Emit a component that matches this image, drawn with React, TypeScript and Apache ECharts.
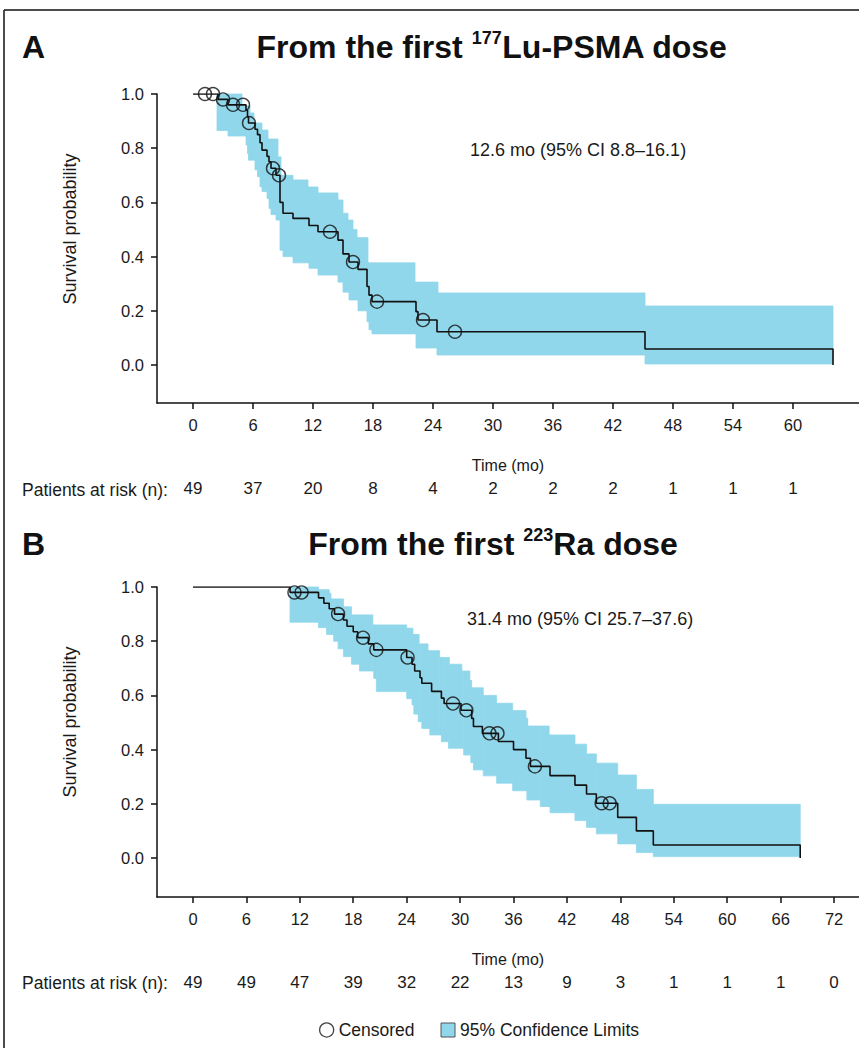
import React, { useEffect, useRef } from 'react';
import * as echarts from 'echarts';

const FONT = '"Liberation Sans", Arial, Helvetica, sans-serif';
const CI_COLOR = '#91d7eb';
const INK = '#111111';

// ---- tick labels / at-risk rows ----
const timeTicksA = [0, 6, 12, 18, 24, 30, 36, 42, 48, 54, 60];
const riskA = [49, 37, 20, 8, 4, 2, 2, 2, 1, 1, 1];
const timeTicksB = [0, 6, 12, 18, 24, 30, 36, 42, 48, 54, 60, 66, 72];
const riskB = [49, 49, 47, 39, 32, 22, 13, 9, 3, 1, 1, 1, 0];
const yTicks = [0, 0.2, 0.4, 0.6, 0.8, 1.0];

// ---- Panel A: KM curve (time, survival after step) ----
const curveA: [number, number][] = [
  [0, 1.0], [2.5, 0.98], [3.5, 0.96], [5.3, 0.94], [5.45, 0.915], [5.55, 0.893],
  [6.2, 0.87], [6.45, 0.85], [6.7, 0.82], [6.9, 0.793], [7.4, 0.77], [7.6, 0.75],
  [7.8, 0.726], [8.3, 0.70], [8.7, 0.60], [9.0, 0.56], [10.0, 0.541], [11.6, 0.515],
  [12.5, 0.492], [14.5, 0.461], [15.0, 0.41], [15.6, 0.38], [16.5, 0.353], [17.4, 0.29],
  [17.6, 0.258], [17.9, 0.234], [22.3, 0.197], [22.5, 0.166], [24.4, 0.123], [45.2, 0.059],
  [64.0, 0],
];
const censoredA: [number, number][] = [
  [1.2, 1.0], [2.0, 1.0], [3.0, 0.98], [4.0, 0.96], [5.0, 0.96], [5.6, 0.893],
  [8.0, 0.726], [8.6, 0.70], [13.7, 0.492], [16.0, 0.38], [18.4, 0.234], [23.0, 0.166], [26.2, 0.123],
];
const upperA: [number, number][] = [
  [2.4, 1.0], [4.9, 0.956], [5.7, 0.93], [6.1, 0.893], [6.9, 0.867], [7.5, 0.834], [8.5, 0.768],
  [8.8, 0.70], [10.0, 0.683], [11.5, 0.657], [12.5, 0.635], [14.5, 0.609], [15.0, 0.56],
  [15.5, 0.535], [16.0, 0.50], [16.4, 0.47], [17.5, 0.377], [22.2, 0.306], [24.5, 0.266], [45.2, 0.218],
];
const lowerA: [number, number][] = [
  [2.4, 0.865], [3.5, 0.845], [5.3, 0.812], [5.45, 0.78], [5.55, 0.756], [6.2, 0.72], [6.45, 0.695],
  [6.7, 0.658], [6.9, 0.64], [7.4, 0.615], [7.6, 0.578], [7.8, 0.555], [8.3, 0.535], [8.7, 0.424],
  [9.0, 0.40], [10.0, 0.377], [11.6, 0.357], [12.5, 0.332], [14.5, 0.306], [15.0, 0.269], [15.6, 0.24],
  [16.5, 0.2], [17.4, 0.16], [17.6, 0.13], [17.9, 0.115], [22.3, 0.063], [24.4, 0.037], [45.2, 0.004],
];
const bandEndA = 64.0;

// ---- Panel B ----
const curveB: [number, number][] = [
  [0, 1.0], [10.9, 0.98], [14.1, 0.96], [14.7, 0.94], [15.3, 0.92], [15.9, 0.90], [16.9, 0.878],
  [17.3, 0.855], [18.0, 0.835], [18.5, 0.813], [19.7, 0.79], [20.3, 0.768], [24.0, 0.74],
  [24.6, 0.715], [24.9, 0.69], [25.5, 0.665], [25.7, 0.645], [26.8, 0.615], [27.9, 0.59],
  [28.2, 0.57], [30.1, 0.545], [31.3, 0.515], [31.5, 0.485], [32.5, 0.46], [34.3, 0.43],
  [36.0, 0.40], [37.4, 0.368], [37.9, 0.338], [40.1, 0.304], [42.9, 0.269], [44.2, 0.236],
  [45.3, 0.202], [47.7, 0.15], [49.8, 0.10], [51.7, 0.048], [68.2, 0],
];
const censoredB: [number, number][] = [
  [11.4, 0.98], [12.2, 0.98], [16.3, 0.90], [19.1, 0.813], [20.6, 0.768], [24.1, 0.74],
  [29.2, 0.57], [30.7, 0.545], [33.3, 0.46], [34.2, 0.46], [38.4, 0.338], [45.9, 0.202], [46.8, 0.202],
];
const upperB: [number, number][] = [
  [10.9, 1.0], [14.1, 0.99], [15.3, 0.977], [15.5, 0.956], [16.9, 0.927], [17.8, 0.897], [20.2, 0.86],
  [24.0, 0.848], [24.7, 0.825], [25.4, 0.79], [26.4, 0.765], [27.7, 0.74], [28.8, 0.715], [30.2, 0.69],
  [31.1, 0.655], [31.3, 0.628], [32.6, 0.60], [34.1, 0.571], [35.9, 0.544], [37.4, 0.516], [37.6, 0.487],
  [40.0, 0.454], [42.9, 0.42], [44.2, 0.384], [45.3, 0.35], [47.7, 0.306], [49.8, 0.253], [51.7, 0.198],
];
const lowerB: [number, number][] = [
  [10.9, 0.87], [14.1, 0.85], [15.0, 0.825], [15.8, 0.80], [16.3, 0.772], [16.9, 0.743], [17.8, 0.715],
  [18.7, 0.69], [20.3, 0.663], [20.6, 0.614], [24.0, 0.588], [24.6, 0.565], [24.8, 0.531], [25.3, 0.503],
  [25.7, 0.478], [26.6, 0.454], [27.9, 0.429], [28.7, 0.405], [30.4, 0.38], [31.2, 0.352], [31.5, 0.325],
  [32.6, 0.303], [34.1, 0.276], [35.9, 0.248], [37.5, 0.214], [39.0, 0.19], [40.1, 0.167], [42.9, 0.138],
  [44.2, 0.113], [45.3, 0.089], [47.7, 0.052], [49.8, 0.02], [51.7, 0.005],
];
const bandEndB = 68.2;

function stepAt(arr: [number, number][], t: number) {
  let v = arr[0][1];
  for (const [tt, vv] of arr) if (tt <= t + 1e-9) v = vv;
  return v;
}
function bandRects(lo: [number, number][], hi: [number, number][], end: number) {
  const ts = Array.from(new Set([...lo.map((p) => p[0]), ...hi.map((p) => p[0])])).sort((a, b) => a - b);
  ts.push(end);
  const out: number[][] = [];
  for (let i = 0; i < ts.length - 1; i++) out.push([ts[i], ts[i + 1], stepAt(lo, ts[i]), stepAt(hi, ts[i])]);
  return out;
}

const txt = { fontFamily: FONT, color: '#1a1a1a', fontSize: 16.5 };

function mainX(grid: number, min: number, max: number, ticks: number[]) {
  return {
    gridIndex: grid, type: 'value', min, max,
    axisLine: { show: true, onZero: false, lineStyle: { color: INK, width: 1.5 } },
    axisTick: { show: true, customValues: ticks, length: 6, inside: false, lineStyle: { color: INK, width: 1.5 } },
    axisLabel: { customValues: ticks, margin: 13, ...txt },
    splitLine: { show: false },
    name: 'Time (mo)', nameLocation: 'middle', nameGap: 54,
    nameTextStyle: { ...txt, fontSize: 16 },
  };
}
function riskX(grid: number, min: number, max: number, ticks: number[], risk: number[]) {
  return {
    gridIndex: grid, type: 'value', min, max, position: 'bottom', offset: 64,
    axisLine: { show: false, onZero: false }, axisTick: { show: false }, splitLine: { show: false },
    axisLabel: {
      customValues: ticks, margin: 13, ...txt, fontSize: 17,
      formatter: (v: number) => String(risk[ticks.indexOf(v)]),
    },
  };
}
function mainY(grid: number, min: number) {
  return {
    gridIndex: grid, type: 'value', min, max: 1.0,
    axisLine: { show: true, onZero: false, lineStyle: { color: INK, width: 1.5 } },
    axisTick: { show: true, customValues: yTicks, length: 6, inside: false, lineStyle: { color: INK, width: 1.5 } },
    axisLabel: { customValues: yTicks, margin: 13, ...txt, formatter: (v: number) => v.toFixed(1) },
    splitLine: { show: false },
  };
}

function renderBand(params: any, api: any) {
  const p1 = api.coord([api.value(0), api.value(3)]);
  const p2 = api.coord([api.value(1), api.value(2)]);
  return {
    type: 'rect',
    shape: { x: p1[0], y: p1[1], width: p2[0] - p1[0], height: p2[1] - p1[1] },
    style: { fill: CI_COLOR, stroke: CI_COLOR, lineWidth: 0.8 },
  };
}

function panelSeries(xi: number, yi: number, curve: any, cens: any, band: any) {
  return [
    {
      type: 'custom', name: '95% Confidence Limits', xAxisIndex: xi, yAxisIndex: yi,
      data: band, encode: { x: [0, 1], y: [2, 3] }, renderItem: renderBand, z: 1, silent: true,
      itemStyle: { color: CI_COLOR },
    },
    {
      type: 'line', xAxisIndex: xi, yAxisIndex: yi, data: curve, step: 'end', symbol: 'none',
      lineStyle: { color: INK, width: 1.6 }, z: 3, silent: true,
    },
    {
      type: 'scatter', name: 'Censored', xAxisIndex: xi, yAxisIndex: yi, data: cens,
      symbol: 'circle', symbolSize: 13,
      itemStyle: { color: 'rgba(0,0,0,0)', borderColor: INK, borderWidth: 1.4 }, z: 4, silent: true,
    },
  ];
}

function titleText(x: number, y: number, pre: string, sup: string, post: string) {
  return {
    type: 'text', x, y,
    style: {
      text: `{t|${pre}}{s|${sup}}{t|${post}}`,
      align: 'center', verticalAlign: 'middle',
      rich: {
        t: { fontFamily: FONT, fontSize: 32, fontWeight: 'bold', fill: '#111', lineHeight: 36 },
        s: { fontFamily: FONT, fontSize: 18, fontWeight: 'bold', fill: '#111', lineHeight: 24, verticalAlign: 'top' },
      },
    },
  };
}

export default function App() {
  const ref = useRef<HTMLDivElement>(null);
  useEffect(() => {
    document.body.style.margin = '0';
    const chart = echarts.init(ref.current!, null, { renderer: 'svg' });
    const bandA = bandRects(lowerA, upperA, bandEndA);
    const bandB = bandRects(lowerB, upperB, bandEndB);
    const minXA = -3.6, maxXA = 66.6;
    const minXB = -4.04, maxXB = 74.8;
    chart.setOption({
      animation: false,
      backgroundColor: '#ffffff',
      grid: [
        { left: 157, top: 94, right: 0, height: 309, outerBoundsMode: 'none', containLabel: false },
        { left: 157, top: 587, right: 0, height: 310, outerBoundsMode: 'none', containLabel: false },
      ],
      xAxis: [
        mainX(0, minXA, maxXA, timeTicksA),
        riskX(0, minXA, maxXA, timeTicksA, riskA),
        mainX(1, minXB, maxXB, timeTicksB),
        riskX(1, minXB, maxXB, timeTicksB, riskB),
      ],
      yAxis: [mainY(0, -0.14), mainY(1, -0.144)],
      legend: {
        left: 319, top: 1021, padding: 0, itemWidth: 14, itemHeight: 14, itemGap: 26, selectedMode: false,
        textStyle: { ...txt, fontSize: 17.5 },
        data: [
          { name: 'Censored', icon: 'circle', itemStyle: { color: 'rgba(0,0,0,0)', borderColor: INK, borderWidth: 1.3 } },
          { name: '95% Confidence Limits', icon: 'rect', itemStyle: { color: CI_COLOR, borderColor: '#555', borderWidth: 1 } },
        ],
      },
      graphic: [
        { type: 'line', shape: { x1: 4, y1: 10, x2: 859, y2: 10 }, style: { stroke: INK, lineWidth: 1.5 } },
        { type: 'line', shape: { x1: 4, y1: 10, x2: 4, y2: 1048 }, style: { stroke: INK, lineWidth: 1.5 } },
        { type: 'text', x: 22, y: 47, style: { text: 'A', fontFamily: FONT, fontSize: 32, fontWeight: 'bold', fill: '#111', verticalAlign: 'middle' } },
        { type: 'text', x: 22, y: 544, style: { text: 'B', fontFamily: FONT, fontSize: 32, fontWeight: 'bold', fill: '#111', verticalAlign: 'middle' } },
        titleText(492, 47, 'From the first ', '177', 'Lu-PSMA dose'),
        titleText(493, 544, 'From the first ', '223', 'Ra dose'),
        { type: 'text', x: 470, y: 150, style: { text: '12.6 mo (95% CI 8.8–16.1)', fontFamily: FONT, fontSize: 18, fill: '#1a1a1a', verticalAlign: 'middle' } },
        { type: 'text', x: 467, y: 619, style: { text: '31.4 mo (95% CI 25.7–37.6)', fontFamily: FONT, fontSize: 18, fill: '#1a1a1a', verticalAlign: 'middle' } },
        { type: 'text', x: 70, y: 229, rotation: Math.PI / 2, style: { text: 'Survival probability', fontFamily: FONT, fontSize: 18, fill: '#1a1a1a', align: 'center', verticalAlign: 'middle' } },
        { type: 'text', x: 70, y: 722, rotation: Math.PI / 2, style: { text: 'Survival probability', fontFamily: FONT, fontSize: 18, fill: '#1a1a1a', align: 'center', verticalAlign: 'middle' } },
        { type: 'text', x: 22, y: 490, style: { text: 'Patients at risk (n):', fontFamily: FONT, fontSize: 17.5, fill: '#1a1a1a', verticalAlign: 'middle' } },
        { type: 'text', x: 22, y: 983, style: { text: 'Patients at risk (n):', fontFamily: FONT, fontSize: 17.5, fill: '#1a1a1a', verticalAlign: 'middle' } },
      ],
      series: [
        ...panelSeries(0, 0, curveA, censoredA, bandA),
        ...panelSeries(2, 1, curveB, censoredB, bandB),
      ],
    });
    return () => chart.dispose();
  }, []);
  return <div ref={ref} style={{ width: 859, height: 1048, overflow: 'hidden' }} />;
}
